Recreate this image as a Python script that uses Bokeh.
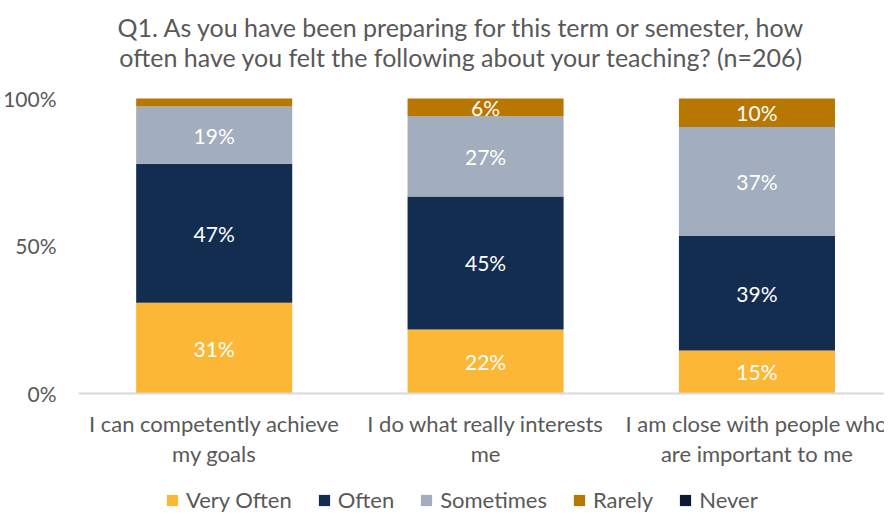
from bokeh.plotting import figure
from bokeh.models import (ColumnDataSource, LabelSet, Label, Legend, LegendItem, NumeralTickFormatter,
                          FixedTicker, Range1d, Span)
from bokeh.core.properties import value
from bokeh.embed import file_html
from bokeh.resources import INLINE

title_lines = ["Q1. As you have been preparing for this term or semester, how",
               "often have you felt the following about your teaching? (n=206)"]
categories = ["I can competently achieve my goals", "I do what really interests me",
              "I am close with people who are important to me"]
cat_line1 = ["I can competently achieve", "I do what really interests", "I am close with people who"]
cat_line2 = ["my goals", "me", "are important to me"]
series = ["Very Often", "Often", "Sometimes", "Rarely", "Never"]
very_often = [30.8, 21.7, 14.6]
often = [47.1, 45.1, 38.8]
sometimes = [19.4, 27.2, 36.9]
rarely = [2.7, 6.0, 9.7]
never = [0.0, 0.0, 0.0]
colors = ["#FBB735", "#132D50", "#A2ADBD", "#B87700", "#0B1A33"]
y_ticks = [0, 0.5, 1.0]

FONT = "Lato"
GRAY = "#595959"

# category slots: each category occupies one unit on the x scale, centred at index + 0.5
xpos = [i + 0.5 for i in range(len(categories))]

data = {"x": xpos, "cat": categories}
vals = [very_often, often, sometimes, rarely, never]
for s, v in zip(series, vals):
    data[s] = [x / 100 for x in v]
src = ColumnDataSource(data)

p = figure(x_range=Range1d(0, 2.97), y_range=Range1d(-0.4068, 1.3322),
           frame_width=806, frame_height=513, output_backend="svg", toolbar_location=None,
           x_axis_location=None,
           min_border_left=73, min_border_right=0, min_border_top=0, min_border_bottom=0)

rs = p.vbar_stack(series, x="x", width=0.575, color=colors, source=src, line_color=None)

# value labels
lab_x, lab_y, lab_t = [], [], []
for i, c in enumerate(xpos):
    base = 0.0
    for v in vals:
        f = v[i] / 100
        if v[i] >= 3:
            lab_x.append(c)
            lab_y.append(base + f / 2)
            lab_t.append(f"{round(v[i]):d}%")
        base += f
lsrc = ColumnDataSource(dict(x=lab_x, y=lab_y, t=lab_t))
p.add_layout(LabelSet(x="x", y="y", text="t", source=lsrc, text_align="center", text_baseline="middle",
                      text_color="white", text_font=value(FONT), text_font_size=value("21px")))

# baseline (category axis line)
p.add_layout(Span(location=0, dimension="width", line_color="#D9D9D9", line_width=2))

# category labels
csrc = ColumnDataSource(dict(x=xpos, y=[0] * len(xpos), l1=cat_line1, l2=cat_line2))
for col, off in (("l1", -39), ("l2", -69)):
    p.add_layout(LabelSet(x="x", y="y", text=col, source=csrc, y_offset=off,
                          text_align="center", text_baseline="alphabetic", text_color=GRAY,
                          text_font=value(FONT), text_font_size=value("22px")))

# title, centred slightly left of the middle category
for line, off in zip(title_lines, (71, 41)):
    p.add_layout(Label(x=xpos[1], y=1.0, x_offset=-24, y_offset=off, text=line,
                       text_align="center", text_baseline="alphabetic", text_color=GRAY,
                       text_font=FONT, text_font_size="25px"))

p.outline_line_color = None
p.xgrid.grid_line_color = None
p.ygrid.grid_line_color = None

p.yaxis.ticker = FixedTicker(ticks=y_ticks)
p.yaxis.formatter = NumeralTickFormatter(format="0%")
p.yaxis.axis_line_color = None
p.yaxis.major_tick_line_color = None
p.yaxis.minor_tick_line_color = None
p.yaxis.major_label_text_font = FONT
p.yaxis.major_label_text_font_size = "21px"
p.yaxis.major_label_text_color = GRAY
p.yaxis.major_label_standoff = 16

legend = Legend(items=[LegendItem(label=s, renderers=[r]) for s, r in zip(series, rs)],
                orientation="horizontal", location=(87, 0),
                label_text_font=FONT, label_text_font_size="22px", label_text_color=GRAY,
                glyph_width=14, glyph_height=14, spacing=25, label_standoff=7,
                border_line_color=None, background_fill_alpha=0, margin=0, padding=0)
p.add_layout(legend)

open("out.html", "w").write(file_html(p, INLINE))
